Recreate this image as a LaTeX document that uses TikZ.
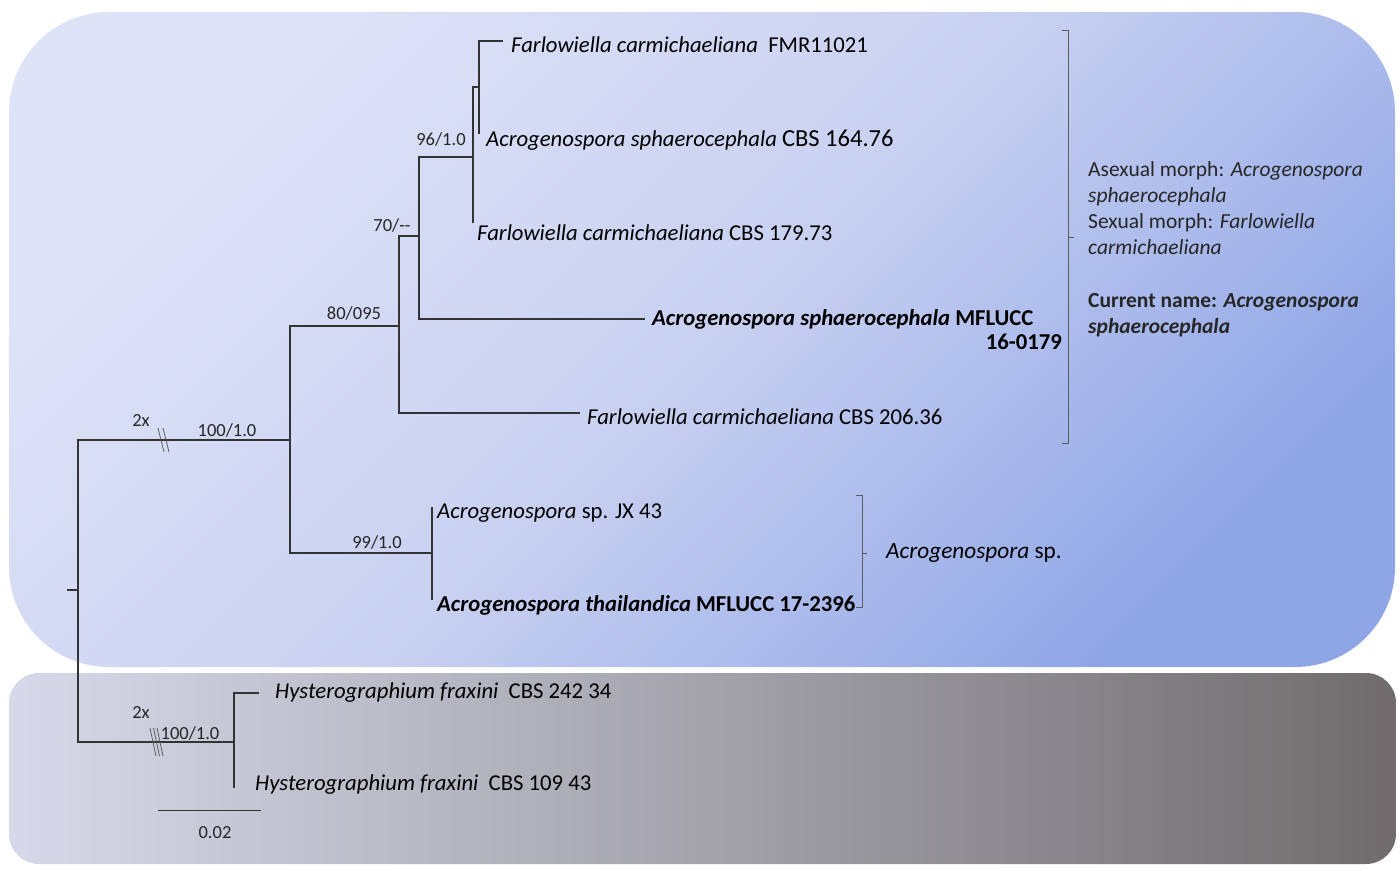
\documentclass[tikz,border=0pt]{standalone}
\usepackage{fontspec}
\setmainfont{Carlito}
\definecolor{tl}{HTML}{DFE3F7}
\definecolor{tm}{HTML}{C9D1F1}
\definecolor{tr}{HTML}{8FA6E6}
\definecolor{bl}{HTML}{D6D9E9}
\definecolor{bm}{HTML}{A4A3AC}
\definecolor{brr}{HTML}{706C6D}
\definecolor{lc}{HTML}{333333}
\begin{document}
\begin{tikzpicture}[x=1pt,y=-1pt,
  br/.style={draw=lc, line width=1.3pt},
  brk/.style={draw=lc!80, line width=0.9pt},
  cut/.style={draw=lc!80, line width=0.8pt},
  tip/.style={anchor=west, inner xsep=0pt, inner ysep=1pt, text=black, font=\fontsize{22.7}{26}\selectfont},
  low/.style={text height=22pt, text depth=0pt},
  sup/.style={inner sep=0pt, text=black!85, font=\fontsize{18.5}{22}\selectfont},
  side/.style={anchor=north west, inner sep=0pt, align=left, text=black!85, font=\fontsize{21.5}{26}\selectfont}
]
\useasboundingbox (0,0) rectangle (1400,870);
% background panels
\shade[rounded corners=100pt, top color=tl, bottom color=tr, middle color=tm, shading angle=45] (9,12) rectangle (1395,667);
\shade[rounded corners=30pt, left color=bl, right color=brr, middle color=bm] (9,673) rectangle (1396,864);

% internal nodes
\coordinate (rt) at (67,590);
\coordinate (r) at (78,590);
\coordinate (A) at (290,440);
\coordinate (B) at (399,326);
\coordinate (C) at (419,236);
\coordinate (D) at (473,157);
\coordinate (E) at (479,87);
\coordinate (F) at (432,553);
\coordinate (G) at (234,742);
% free ends
\coordinate (e2) at (479,134);
\coordinate (e3) at (473,223);
\coordinate (e6) at (432,507);
\coordinate (e7) at (432,600);
\coordinate (e9) at (234,788);

% tips
\node[tip,low] (t1) at (511,41) {\textit{Farlowiella carmichaeliana}\ \ FMR11021};
\node[tip] (t2) at (486,140) {\textit{Acrogenospora sphaerocephala} {\fontsize{24.5}{26}\selectfont CBS 164.76}};
\node[tip] (t3) at (477,233) {\textit{Farlowiella carmichaeliana} CBS 179.73};
\node[tip] (t4) at (652,319) {\textbf{\textit{Acrogenospora sphaerocephala} MFLUCC}};
\node[tip,anchor=east] (t4b) at (1062,342) {\textbf{16-0179}};
\node[tip,low] (t5) at (587,413) {\textit{Farlowiella carmichaeliana} CBS 206.36};
\node[tip] (t6) at (437,513) {\textit{Acrogenospora} sp. JX 43};
\node[tip] (t7) at (437,605) {\textbf{\textit{Acrogenospora thailandica} MFLUCC 17-2396}};
\node[tip] (t8) at (275,693) {\textit{Hysterographium fraxini}\ \ CBS 242 34};
\node[tip] (t9) at (255,785) {\textit{Hysterographium fraxini}\ \ CBS 109 43};

% branches
\draw[br] (rt) -- (r);
\draw[br] (r) |- (A);
\draw[br] (r) |- (G);
\draw[br] (A) |- (B);
\draw[br] (A) |- (F);
\draw[br] (B) |- (C);
\draw[br] (B) |- ([xshift=-7pt]t5.west);
\draw[br] (C) |- (D);
\draw[br] (C) |- ([xshift=-7pt]t4.west);
\draw[br] (D) |- (E);
\draw[br] (D) -- (e3);
\draw[br] (E) |- ([xshift=-8pt]t1.west);
\draw[br] (E) -- (e2);
\draw[br] (F) -- (e6);
\draw[br] (F) -- (e7);
\draw[br] (G) |- ([xshift=-16pt]t8.west);
\draw[br] (G) -- (e9);

% break marks
\draw[cut] (158,428) -- (164,452) (163,428) -- (169,452);
\draw[cut] (150,728) -- (156,756) (153.5,728) -- (159.5,756) (157,728) -- (163,756);

% support values
\node[sup] (s1) at (441,139) {96/1.0};
\node[sup] (s2) at (392,225) {70/-{}-};
\node[sup] (s3) at (354,313) {80/095};
\node[sup] (s4) at (377,542) {99/1.0};
\node[sup] (s5) at (227,430) {100/1.0};
\node[sup] (s6) at (141,420) {2x};
\node[sup] (s7) at (141,712) {2x};
\node[sup] (s8) at (190,733) {100/1.0};

% scale bar
\coordinate (sb1) at (158,810);
\coordinate (sb2) at (261,810);
\draw[br, line width=1pt] (sb1) -- (sb2);
\node[sup] (sbl) at (215,833) {0.02};

% brackets
\coordinate (k1) at (1068,30);
\coordinate (k2) at (1068,443);
\coordinate (km) at (1068,237);
\draw[brk] ([xshift=-6pt]k1) -- (k1) -- (k2) -- ([xshift=-6pt]k2);
\draw[brk] (km) -- ([xshift=6pt]km);
\node[side] (asx) at (1088,161) {Asexual morph: \textit{Acrogenospora}\\
\textit{sphaerocephala}\\
Sexual morph: \textit{Farlowiella}\\
\textit{carmichaeliana}\\[27pt]
\textbf{Current name: \textit{Acrogenospora}}\\
\textbf{\textit{sphaerocephala}}};

\coordinate (q1) at (862,495);
\coordinate (q2) at (862,607);
\coordinate (qm) at (862,553);
\draw[brk] ([xshift=-6pt]q1) -- (q1) -- (q2) -- ([xshift=-6pt]q2);
\draw[brk] (qm) -- ([xshift=5pt]qm);
\node[tip, font=\fontsize{23.3}{26}\selectfont] (acs) at (886,553) {\textit{Acrogenospora} sp.};
\end{tikzpicture}
\end{document}
